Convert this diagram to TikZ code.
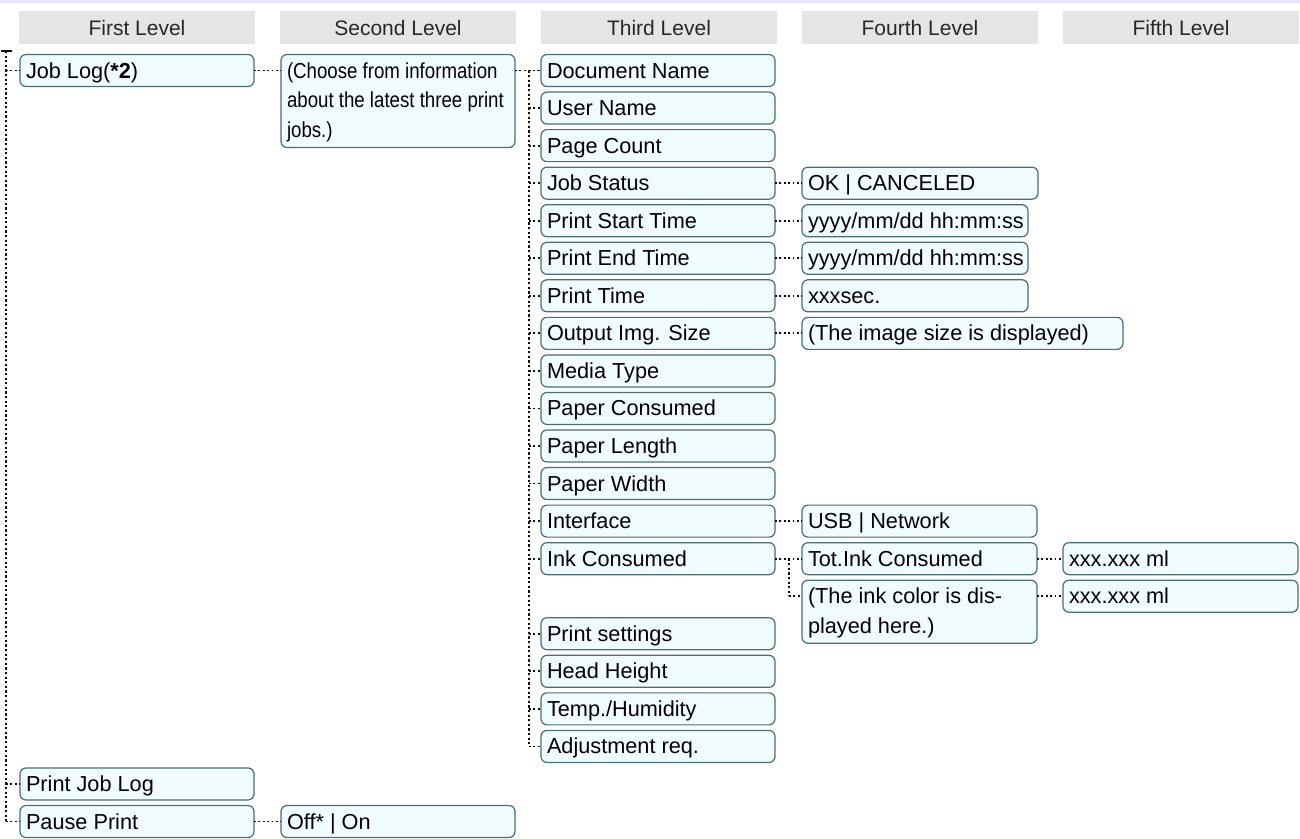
\documentclass[tikz,border=0pt]{standalone}
\usepackage{fontspec}
\setmainfont{Liberation Sans}
\usepackage{graphicx}
\definecolor{boxfill}{RGB}{240,252,255}
\definecolor{boxline}{RGB}{70,112,118}
\definecolor{hdrfill}{RGB}{229,229,229}
\definecolor{hdrtext}{RGB}{40,40,40}
\definecolor{band}{RGB}{228,228,250}
\definecolor{dotc}{RGB}{10,10,10}
\tikzset{
  cellbox/.style={draw=boxline, fill=boxfill, line width=1.2pt, rounded corners=6pt, inner sep=0pt, outer sep=0pt},
  celltext/.style={inner sep=0pt, outer sep=0pt, font=\fontsize{21.7}{29.5}\selectfont, text=black},
  hdr/.style={fill=hdrfill, inner sep=0pt, minimum width=236pt, minimum height=33pt, font=\fontsize{21}{25}\selectfont, text=hdrtext},
  conn/.style={draw=dotc, line width=1.8pt, dash pattern=on 1.8pt off 2.6pt},
  trunk/.style={draw=dotc, line width=2.5pt, dash pattern=on 2.2pt off 2.4pt},
}
\newcommand{\mkcell}[6]{%
  \node[cellbox, minimum width=#4pt, minimum height=#5pt, anchor=north west] (#1) at (#2,{54.5+37.55*#3}) {};
  \node[celltext, anchor=base west] (#1t) at ([shift={(6,23.5)}]#1.north west) {\parbox[t]{#4pt}{\raggedright #6}};
}
\begin{document}
\begin{tikzpicture}[x=1pt,y=-1pt]
\useasboundingbox (0,0) rectangle (1300,838);
\fill[band] (0,0) rectangle (1300,2.5);
% headers
\node[hdr] (h1) at (137,27.5) {First Level};
\node[hdr] (h2) at (398,27.5) {Second Level};
\node[hdr] (h3) at (659,27.5) {Third Level};
\node[hdr] (h4) at (920,27.5) {Fourth Level};
\node[hdr] (h5) at (1181,27.5) {Fifth Level};
% first level
\mkcell{jobLog}{20}{0}{234}{32}{Job Log(\textbf{*2})}
\mkcell{prJobLog}{20}{19}{234}{32}{Print Job Log}
\mkcell{pause}{20}{20}{234}{32}{Pause Print}
% second level
\mkcell{choose}{281}{0}{234}{93}{\scalebox{0.86}[1]{(Choose from information}\\\scalebox{0.86}[1]{about the latest three print}\\\scalebox{0.86}[1]{jobs.)}}
\mkcell{offon}{281}{20}{234}{32}{Off* | On}
% third level
\mkcell{docName}{541}{0}{234}{32}{Document Name}
\mkcell{userName}{541}{1}{234}{32}{User Name}
\mkcell{pageCount}{541}{2}{234}{32}{Page Count}
\mkcell{jobStatus}{541}{3}{234}{32}{Job Status}
\mkcell{pStart}{541}{4}{234}{32}{Print Start Time}
\mkcell{pEnd}{541}{5}{234}{32}{Print End Time}
\mkcell{pTime}{541}{6}{234}{32}{Print Time}
\mkcell{outImg}{541}{7}{234}{32}{Output Img. Size}
\mkcell{mediaType}{541}{8}{234}{32}{Media Type}
\mkcell{paperCons}{541}{9}{234}{32}{Paper Consumed}
\mkcell{paperLen}{541}{10}{234}{32}{Paper Length}
\mkcell{paperWid}{541}{11}{234}{32}{Paper Width}
\mkcell{iface}{541}{12}{234}{32}{Interface}
\mkcell{inkCons}{541}{13}{234}{32}{Ink Consumed}
\mkcell{prSet}{541}{15}{234}{32}{Print settings}
\mkcell{headH}{541}{16}{234}{32}{Head Height}
\mkcell{tempH}{541}{17}{234}{32}{Temp./Humidity}
\mkcell{adjReq}{541}{18}{234}{32}{Adjustment req.}
% fourth level
\mkcell{okc}{802}{3}{236}{32}{OK | CANCELED}
\mkcell{vStart}{802}{4}{226}{32}{yyyy/mm/dd hh:mm:ss}
\mkcell{vEnd}{802}{5}{226}{32}{yyyy/mm/dd hh:mm:ss}
\mkcell{vTime}{802}{6}{226}{32}{xxxsec.}
\mkcell{vImg}{802}{7}{321}{32}{(The image size is displayed)}
\mkcell{usb}{802}{12}{235}{32}{USB | Network}
\mkcell{totInk}{802}{13}{235}{32}{Tot.Ink Consumed}
\mkcell{inkColor}{802}{14}{235}{63}{(The ink color is dis-\\played here.)}
% fifth level
\mkcell{xxxA}{1063}{13}{235}{32}{xxx.xxx ml}
\mkcell{xxxB}{1063}{14}{235}{32}{xxx.xxx ml}
% first-level trunk
\coordinate (t1) at (6,51);
\draw[dotc, line width=2.2pt] ([shift={(-5,0)}]t1) -- ([shift={(6,0)}]t1);
\draw[trunk] (t1) -- (t1 |- pause.west);
\foreach \n in {jobLog,prJobLog,pause}
  \draw[conn] (t1 |- \n.west) -- (\n.west);
% first to second
\draw[conn] (jobLog.east) -- (jobLog.east -| choose.west);
\draw[conn] (pause.east) -- (offon.west);
% second to third
\coordinate (t3) at (529,70.5);
\draw[conn] (docName.west -| choose.east) -- (docName.west);
\draw[trunk] (t3) -- (t3 |- adjReq.west);
\foreach \n in {docName,userName,pageCount,jobStatus,pStart,pEnd,pTime,outImg,mediaType,paperCons,paperLen,paperWid,iface,inkCons,prSet,headH,tempH,adjReq}
  \draw[conn] (t3 |- \n.west) -- (\n.west);
% third to fourth
\draw[conn] (jobStatus.east) -- (okc.west);
\draw[conn] (pStart.east) -- (vStart.west);
\draw[conn] (pEnd.east) -- (vEnd.west);
\draw[conn] (pTime.east) -- (vTime.west);
\draw[conn] (outImg.east) -- (vImg.west);
\draw[conn] (iface.east) -- (usb.west);
\draw[conn] (inkCons.east) -- (totInk.west);
\coordinate (icA) at ([shift={(0,16)}]inkColor.north west);
\coordinate (t4) at (789,558);
\draw[trunk] (t4 |- totInk.west) -- (t4 |- icA);
\draw[conn] (t4 |- icA) -- (icA);
% fourth to fifth
\draw[conn] (totInk.east) -- (xxxA.west);
\draw[conn] (icA -| inkColor.east) -- (xxxB.west);
\end{tikzpicture}
\end{document}
